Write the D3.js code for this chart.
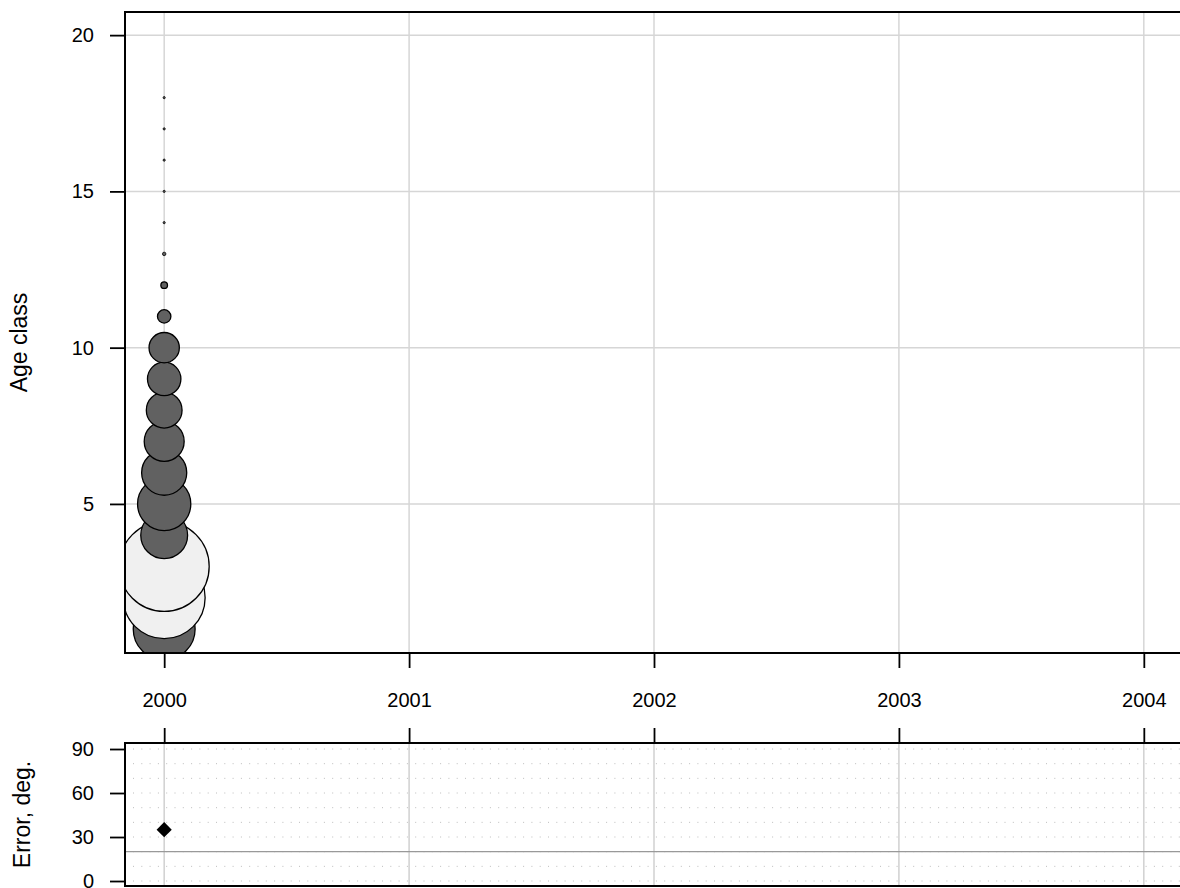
<!DOCTYPE html>
<html>
<head>
<meta charset="utf-8">
<script src="https://cdn.jsdelivr.net/npm/d3@7"></script>
<style>
  html, body { margin: 0; padding: 0; background: #fff; }
  svg { display: block; font-family: "Liberation Sans", Arial, Helvetica, sans-serif; }
</style>
</head>
<body>
<svg id="chart" width="1180" height="888"></svg>
<script>
// ---- data ----
const years = [2000, 2001, 2002, 2003, 2004];
const bubbleYear = 2000;
const ages = [1, 2, 3, 4, 5, 6, 7, 8, 9, 10, 11, 12, 13, 14, 15, 16, 17, 18];
// signed residual magnitudes (negative drawn light)
const residuals = [9.6, -16.8, -20.3, 5.5, 7.1, 5.1, 4.0, 3.2, 2.8, 2.3, 0.45, 0.11, 0.03, 0.012, 0.012, 0.012, 0.012, 0.012];
const ageTicks = [5, 10, 15, 20];
const errorYears = [2000];
const errorValues = [35];
const errorRef = 20;
const errorTicks = [0, 30, 60, 90];
const errorGrid = [0, 10, 20, 30, 40, 50, 60, 70, 80, 90];

// ---- layout ----
const svg = d3.select("#chart");
const L = 125, R = 1183;
const top1 = 12, bot1 = 653;
const top2 = 743, bot2 = 886;

const x = d3.scaleLinear().domain([1999.84, 2004.16]).range([L, R]);
const y1 = d3.scaleLinear().domain([0.23, 20.74]).range([bot1, top1]);
const y2 = d3.scaleLinear().domain([-3.4, 94.1]).range([bot2, top2]);
const rScale = d3.scaleSqrt().domain([0, 20.3]).range([0, 45]);

const defs = svg.append("defs");
defs.append("clipPath").attr("id", "clip1").append("rect")
  .attr("x", L).attr("y", top1).attr("width", R - L).attr("height", bot1 - top1);
defs.append("clipPath").attr("id", "clip2").append("rect")
  .attr("x", L).attr("y", top2).attr("width", R - L).attr("height", bot2 - top2);

// ---- top panel grid ----
const g1 = svg.append("g").attr("clip-path", "url(#clip1)");
g1.selectAll("line.vg").data(years).join("line")
  .attr("x1", d => x(d)).attr("x2", d => x(d))
  .attr("y1", top1).attr("y2", bot1)
  .attr("stroke", "#d6d6d6").attr("stroke-width", 1.5);
g1.selectAll("line.hg").data(ageTicks).join("line")
  .attr("x1", L).attr("x2", R)
  .attr("y1", d => y1(d)).attr("y2", d => y1(d))
  .attr("stroke", "#d6d6d6").attr("stroke-width", 1.5);

// bubbles
const bubbles = ages.map((a, i) => ({ age: a, v: residuals[i] }));
g1.selectAll("circle").data(bubbles).join("circle")
  .attr("cx", x(bubbleYear))
  .attr("cy", d => y1(d.age))
  .attr("r", d => rScale(Math.abs(d.v)))
  .attr("fill", d => d.v >= 0 ? "#616161" : "#f0f0f0")
  .attr("stroke", "#000")
  .attr("stroke-width", d => rScale(Math.abs(d.v)) < 2 ? 0.8 : 1.3);

// top panel border (left, top, bottom)
svg.append("path")
  .attr("d", `M${R},${top1}H${L}V${bot1}H${R}`)
  .attr("fill", "none").attr("stroke", "#000").attr("stroke-width", 2);

// top panel y axis
const ay1 = svg.append("g").attr("transform", `translate(${L},0)`)
  .call(d3.axisLeft(y1).tickValues(ageTicks).tickSize(15).tickPadding(16).tickFormat(d3.format("d")));
ay1.select(".domain").remove();
ay1.selectAll(".tick line").attr("stroke", "#000").attr("stroke-width", 1.8);
ay1.selectAll(".tick text").attr("font-size", 20).attr("fill", "#000")
  .style("font-family", "Liberation Sans, Arial, sans-serif");

// x axis (labels between panels)
const ax1 = svg.append("g").attr("transform", `translate(0,${bot1})`)
  .call(d3.axisBottom(x).tickValues(years).tickSize(15).tickPadding(25).tickFormat(d3.format("d")));
ax1.select(".domain").remove();
ax1.selectAll(".tick line").attr("stroke", "#000").attr("stroke-width", 1.8);
ax1.selectAll(".tick text").attr("font-size", 20).attr("fill", "#000")
  .style("font-family", "Liberation Sans, Arial, sans-serif");

const ax2 = svg.append("g").attr("transform", `translate(0,${top2})`)
  .call(d3.axisTop(x).tickValues(years).tickSize(15).tickFormat(""));
ax2.select(".domain").remove();
ax2.selectAll(".tick line").attr("stroke", "#000").attr("stroke-width", 1.8);

// ---- bottom panel ----
const g2 = svg.append("g").attr("clip-path", "url(#clip2)");
g2.selectAll("line.dg").data(errorGrid).join("line")
  .attr("x1", L + 8).attr("x2", R)
  .attr("y1", d => y2(d)).attr("y2", d => y2(d))
  .attr("stroke", "#bdbdbd").attr("stroke-width", 1)
  .attr("stroke-dasharray", "1,7.3");
g2.selectAll("line.vg").data(years).join("line")
  .attr("x1", d => x(d)).attr("x2", d => x(d))
  .attr("y1", top2).attr("y2", bot2)
  .attr("stroke", "#d0d0d0").attr("stroke-width", 1.5);
g2.append("line")
  .attr("x1", L).attr("x2", R)
  .attr("y1", y2(errorRef)).attr("y2", y2(errorRef))
  .attr("stroke", "#999").attr("stroke-width", 1.2);

const diamond = d3.symbol().type(d3.symbolSquare).size(115);
g2.selectAll("path.pt").data(errorYears.map((yr, i) => ({ yr, v: errorValues[i] })))
  .join("path")
  .attr("d", diamond)
  .attr("transform", d => `translate(${x(d.yr)},${y2(d.v)}) rotate(45)`)
  .attr("fill", "#000");

svg.append("path")
  .attr("d", `M${R},${top2}H${L}V${bot2}H${R}`)
  .attr("fill", "none").attr("stroke", "#000").attr("stroke-width", 2);

const ay2 = svg.append("g").attr("transform", `translate(${L},0)`)
  .call(d3.axisLeft(y2).tickValues(errorTicks).tickSize(15).tickPadding(16).tickFormat(d3.format("d")));
ay2.select(".domain").remove();
ay2.selectAll(".tick line").attr("stroke", "#000").attr("stroke-width", 1.8);
ay2.selectAll(".tick text").attr("font-size", 20).attr("fill", "#000")
  .style("font-family", "Liberation Sans, Arial, sans-serif");

// axis titles
svg.append("text")
  .attr("transform", `translate(27,${(top1 + bot1) / 2 + 10}) rotate(-90)`)
  .attr("text-anchor", "middle")
  .attr("font-size", 23)
  .text("Age class");
svg.append("text")
  .attr("transform", `translate(30,${(top2 + bot2) / 2}) rotate(-90)`)
  .attr("text-anchor", "middle")
  .attr("font-size", 23)
  .text("Error, deg.");
</script>
</body>
</html>
